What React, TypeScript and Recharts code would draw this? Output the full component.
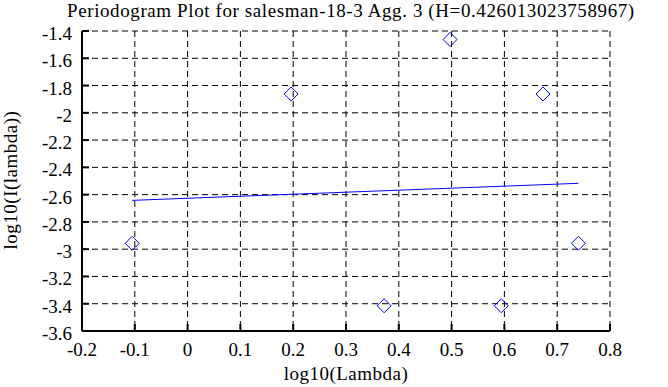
import React from 'react';
import { ComposedChart, Scatter, XAxis, YAxis, CartesianGrid, Label } from 'recharts';

// periodogram points (log10 of frequency vs log10 of intensity)
const logLambda = [-0.1049, 0.1961, 0.3722, 0.4971, 0.5941, 0.6732, 0.7402];
const logI = [-2.957, -1.862, -3.415, -1.462, -3.415, -1.862, -2.957];

// fitted line ends
const fitX = [-0.1049, 0.7402];
const fitY = [-2.642, -2.517];

const xTicks = [-0.2, -0.1, 0, 0.1, 0.2, 0.3, 0.4, 0.5, 0.6, 0.7, 0.8];
const yTicks = [-3.6, -3.4, -3.2, -3, -2.8, -2.6, -2.4, -2.2, -2, -1.8, -1.6, -1.4];

const title = 'Periodogram Plot for salesman-18-3 Agg. 3 (H=0.426013023758967)';
const xLabel = 'log10(Lambda)';
const yLabel = 'log10(I(lambda))';

const points = logLambda.map((x, i) => ({ x, y: logI[i] }));
const fit = fitX.map((x, i) => ({ x, y: fitY[i] }));

const FONT = '"Liberation Serif", "Times New Roman", serif';
const FS = 19;
const TICK = 7;

const BottomTick = ({ x, y, payload }: any) => (
  <g>
    <line x1={x} y1={y} x2={x} y2={y - TICK} stroke="#000" strokeWidth={2} />
    <text x={x} y={y + 25} textAnchor="middle" fontFamily={FONT} fontSize={FS} fill="#000">
      {String(payload.value)}
    </text>
  </g>
);

const TopTick = ({ x, y }: any) => (
  <line x1={x} y1={y} x2={x} y2={y + TICK} stroke="#000" strokeWidth={2} />
);

const LeftTick = ({ x, y, payload }: any) => (
  <g>
    <line x1={x} y1={y} x2={x + TICK} y2={y} stroke="#000" strokeWidth={2} />
    <text x={x - 10} y={y + 9} textAnchor="end" fontFamily={FONT} fontSize={FS} fill="#000">
      {String(payload.value)}
    </text>
  </g>
);

const RightTick = ({ x, y }: any) => (
  <line x1={x} y1={y} x2={x - TICK} y2={y} stroke="#000" strokeWidth={2} />
);

const Diamond = ({ cx, cy }: any) => (
  <path
    d={`M${cx - 7},${cy} L${cx},${cy - 7} L${cx + 7},${cy} L${cx},${cy + 7} Z`}
    fill="none"
    stroke="#0000ff"
    strokeWidth={1}
  />
);

const axisLine = { stroke: '#000', strokeWidth: 2 };

export default function App() {
  return (
    <div style={{ position: 'absolute', left: 0, top: 0, width: 668, height: 387, background: '#fff' }}>
      <div
        style={{
          position: 'absolute',
          left: 67,
          top: 0,
          whiteSpace: 'nowrap',
          fontFamily: FONT,
          fontSize: FS,
          letterSpacing: '0.6px',
          lineHeight: 'normal',
          color: '#000',
        }}
      >
        {title}
      </div>
      <ComposedChart width={668} height={387} margin={{ top: 31, right: 58, left: 0, bottom: 0 }}>
        <CartesianGrid stroke="#000" strokeDasharray="6 4" fill="none" />
        <XAxis
          dataKey="x"
          type="number"
          domain={[-0.2, 0.8]}
          ticks={xTicks}
          interval={0}
          height={56}
          tickSize={0}
          tickMargin={0}
          tickLine={false}
          axisLine={axisLine}
          tick={BottomTick}
          allowDataOverflow
        >
          <Label
            content={({ viewBox }: any) => (
              <text
                x={viewBox.x + viewBox.width / 2}
                y={viewBox.y + viewBox.height - 7}
                textAnchor="middle"
                fontFamily={FONT}
                fontSize={FS}
                letterSpacing="0.5px"
                fill="#000"
              >
                {xLabel}
              </text>
            )}
          />
        </XAxis>
        <XAxis
          xAxisId="top"
          orientation="top"
          dataKey="x"
          type="number"
          domain={[-0.2, 0.8]}
          ticks={xTicks}
          interval={0}
          height={0}
          tickSize={0}
          tickMargin={0}
          tickLine={false}
          axisLine={axisLine}
          tick={TopTick}
          allowDataOverflow
        />
        <YAxis
          dataKey="y"
          type="number"
          domain={[-3.6, -1.4]}
          ticks={yTicks}
          interval={0}
          width={82}
          tickSize={0}
          tickMargin={0}
          tickLine={false}
          axisLine={axisLine}
          tick={LeftTick}
          allowDataOverflow
        >
          <Label
            content={({ viewBox }: any) => {
              const cx = 17;
              const cy = viewBox.y + viewBox.height / 2 - 1;
              return (
                <text
                  x={cx}
                  y={cy}
                  transform={`rotate(-90 ${cx} ${cy})`}
                  textAnchor="middle"
                  fontFamily={FONT}
                  fontSize={FS}
                  letterSpacing="0.5px"
                  fill="#000"
                >
                  {yLabel}
                </text>
              );
            }}
          />
        </YAxis>
        <YAxis
          yAxisId="right"
          orientation="right"
          dataKey="y"
          type="number"
          domain={[-3.6, -1.4]}
          ticks={yTicks}
          interval={0}
          width={0}
          tickSize={0}
          tickMargin={0}
          tickLine={false}
          axisLine={axisLine}
          tick={RightTick}
          allowDataOverflow
        />
        <Scatter data={points} shape={Diamond} isAnimationActive={false} />
        <Scatter
          data={fit}
          line={{ stroke: '#0000ff', strokeWidth: 1 }}
          shape={() => <g />}
          isAnimationActive={false}
        />
      </ComposedChart>
    </div>
  );
}
